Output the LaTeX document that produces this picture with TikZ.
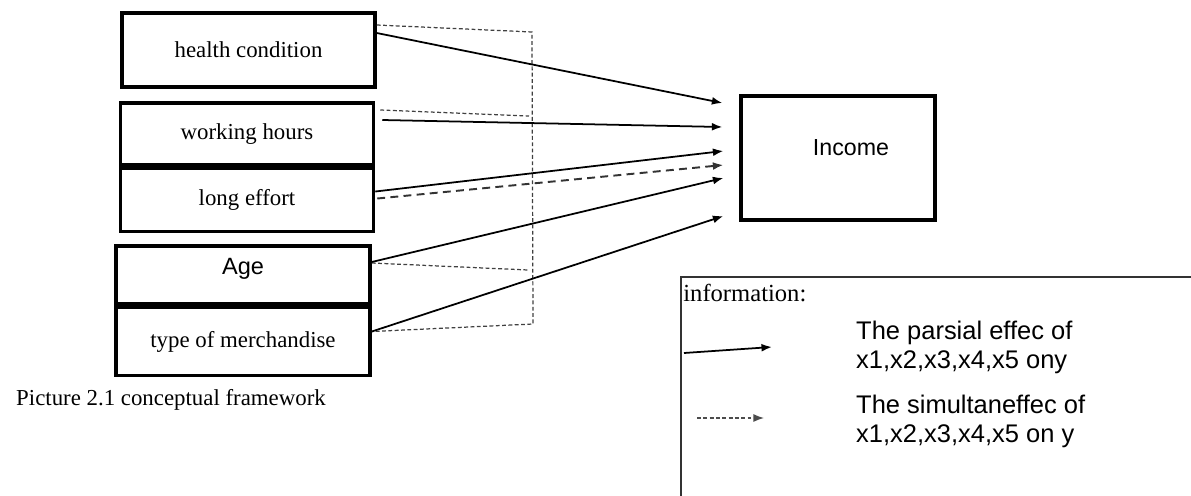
\documentclass[tikz,border=0pt]{standalone}
\usepackage{fontspec}
\setmainfont{Liberation Serif}
\newfontfamily\arialfont{Liberation Sans}
\usetikzlibrary{positioning,calc,arrows.meta}

\begin{document}
\begin{tikzpicture}[
box/.style={draw, line width=2pt, minimum width=5.06cm, inner sep=0pt, font=\fontsize{13}{15}\selectfont},
sfbox/.style={box, font=\arialfont\fontsize{13.4}{15}\selectfont},
part/.style={line width=1pt, -{Latex[length=6pt,width=4.5pt]}},
simul/.style={line width=1.1pt, black!80, dash pattern=on 4.5pt off 3pt, -{Latex[length=6pt,width=4.5pt]}},
dotline/.style={black!75, line width=0.7pt, dash pattern=on 2.2pt off 1.4pt},
legtext/.style={anchor=west, align=left, font=\arialfont\fontsize{14.5}{16.5}\selectfont}
]
\useasboundingbox (0,0) rectangle (23.82,-9.9);
\node[box, minimum height=1.48cm] (hc) at (4.97,-1.0) {health condition};
\node[box, minimum height=1.24cm] (wh) at (4.94,-2.68) {working hours};
\node[box, minimum height=1.26cm, below=0pt of wh] (le) {long effort};
\node[sfbox, minimum width=5.08cm, minimum height=1.16cm, text depth=0.33cm] (age) at (4.86,-5.5) {Age};
\node[box, minimum width=5.08cm, minimum height=1.36cm, below=0pt of age] (tm) {type of merchandise};
\node[draw, line width=1.8pt, minimum width=3.88cm, minimum height=2.48cm] (inc) at (16.76,-3.16) {};
\node[font=\arialfont\fontsize{13.2}{15}\selectfont] (inct) at (17.02,-2.96) {Income};
\node[anchor=west, font=\fontsize{13}{15}\selectfont] (cap) at (0.2,-8.0) {Picture 2.1 conceptual framework};

\coordinate (c1) at (10.64,-0.64);
\coordinate (c2) at (10.66,-6.48);
\draw[dotline] ($(hc.east)+(0,0.5)$) -- (c1) -- (c2) -- ($(tm.east)+(0,0.2)$);
\draw[dotline] ($(wh.east)+(0.1,0.48)$) -- (10.58,-2.32);
\draw[dotline] ($(age.east)+(0,0.24)$) -- (10.56,-5.4);

\draw[part] ($(hc.east)+(0,0.34)$) -- ($(inc.west)+(-0.34,1.10)$);
\draw[part] ($(wh.east)+(0.14,0.28)$) -- ($(inc.west)+(-0.34,0.62)$);
\draw[part] ($(le.east)+(0,0.17)$) -- ($(inc.west)+(-0.32,0.14)$);
\draw[simul] ($(le.east)+(0.04,0.03)$) -- ($(inc.west)+(-0.32,-0.14)$);
\draw[part] ($(age.east)+(0,0.26)$) -- ($(inc.west)+(-0.32,-0.40)$);
\draw[part] ($(tm.east)+(0,0.2)$) -- ($(inc.west)+(-0.32,-1.16)$);

\draw[line width=0.8pt, black!80] (13.62,-9.95) -- (13.62,-5.54) -- (23.9,-5.54);
\node[anchor=west, inner sep=0pt, font=\fontsize{14}{15}\selectfont] (info) at (13.66,-5.86) {information:};
\coordinate (l1) at (13.68,-7.06);
\coordinate (l2) at (15.44,-6.94);
\coordinate (l3) at (13.94,-8.36);
\coordinate (l4) at (15.28,-8.36);
\draw[part] (l1) -- (l2);
\draw[black!70, line width=0.7pt, dash pattern=on 2.2pt off 1.4pt, -{Latex[length=6pt,width=4.5pt]}] (l3) -- (l4);
\node[legtext] (t1) at (17.0,-6.95) {The parsial effec of\\x1,x2,x3,x4,x5 ony};
\node[legtext] (t2) at (17.0,-8.43) {The simultaneffec of\\x1,x2,x3,x4,x5 on y};
\end{tikzpicture}
\end{document}
